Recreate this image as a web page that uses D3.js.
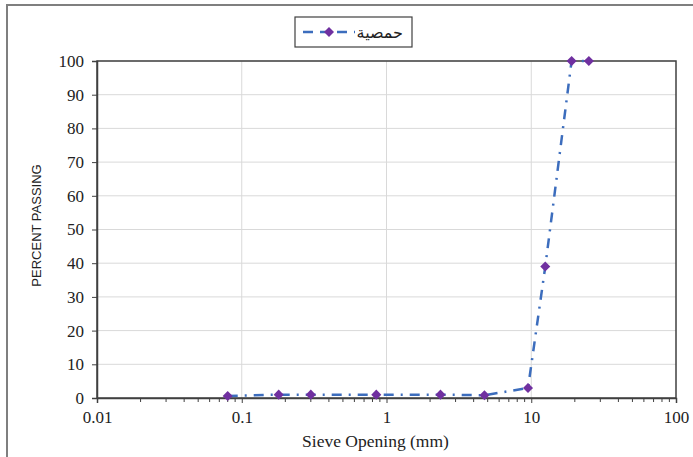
<!DOCTYPE html>
<html>
<head>
<meta charset="utf-8">
<script src="https://cdn.jsdelivr.net/npm/d3@7"></script>
<style>
  body { margin: 0; background: #fff; }
  svg { display: block; }
</style>
</head>
<body>
<div id="chart"></div>
<script>
// sieve sizes (mm) and percent passing
const sieveSizes = [0.08, 0.18, 0.3, 0.85, 2.36, 4.75, 9.5, 12.5, 19, 25];
const percentPassing = [0.6, 1, 1, 1, 1, 0.8, 3, 39, 100, 100];
const seriesName = 'حمصية';
const xTicks = [0.01, 0.1, 1, 10, 100];
const yTicks = [0, 10, 20, 30, 40, 50, 60, 70, 80, 90, 100];

const width = 693;
const height = 457;
const margin = { top: 61, right: 17, bottom: 59, left: 97 };
const innerW = width - margin.left - margin.right;
const innerH = height - margin.top - margin.bottom;

const data = sieveSizes.map((s, i) => ({ size: s, pass: percentPassing[i] }));

const svg = d3.select('#chart')
  .append('svg')
  .attr('width', width)
  .attr('height', height);

// outer frame
svg.append('rect')
  .attr('x', 7).attr('y', 5)
  .attr('width', width + 10).attr('height', height + 10)
  .attr('fill', 'none')
  .attr('stroke', '#7f7f7f')
  .attr('stroke-width', 2);

const g = svg.append('g')
  .attr('transform', `translate(${margin.left}, ${margin.top})`);

const x = d3.scaleLog()
  .domain([0.01, 100])
  .range([0, innerW]);

const y = d3.scaleLinear()
  .domain([0, 100])
  .range([innerH, 0]);

// gridlines
g.append('g')
  .selectAll('line')
  .data(yTicks.slice(1))
  .enter()
  .append('line')
  .attr('x1', 0).attr('x2', innerW)
  .attr('y1', d => y(d)).attr('y2', d => y(d))
  .attr('stroke', '#d9d9d9')
  .attr('stroke-width', 1);

g.append('g')
  .selectAll('line')
  .data(xTicks.slice(1, -1))
  .enter()
  .append('line')
  .attr('x1', d => x(d)).attr('x2', d => x(d))
  .attr('y1', 0).attr('y2', innerH)
  .attr('stroke', '#d9d9d9')
  .attr('stroke-width', 1);

// plot border
g.append('rect')
  .attr('width', innerW)
  .attr('height', innerH)
  .attr('fill', 'none')
  .attr('stroke', '#404040')
  .attr('stroke-width', 1.5);

// x axis: major and minor ticks
const minor = [];
for (let d = 0.01; d < 100; d *= 10) {
  for (let k = 2; k <= 9; k++) minor.push(d * k);
}
const xAxis = g.append('g')
  .attr('transform', `translate(0, ${innerH})`)
  .call(d3.axisBottom(x).tickValues(xTicks).tickFormat(d => String(d)).tickSize(5).tickPadding(8));
xAxis.select('.domain').attr('stroke', '#404040').attr('stroke-width', 1.5);
xAxis.selectAll('.tick line').attr('stroke', '#404040');
xAxis.selectAll('text')
  .attr('font-family', '"Liberation Serif", "Times New Roman", serif')
  .attr('font-size', 17)
  .attr('fill', '#222');

g.append('g')
  .attr('transform', `translate(0, ${innerH})`)
  .selectAll('line')
  .data(minor)
  .enter()
  .append('line')
  .attr('x1', d => x(d)).attr('x2', d => x(d))
  .attr('y1', 0).attr('y2', 4)
  .attr('stroke', '#404040');

const yAxis = g.append('g')
  .call(d3.axisLeft(y).tickValues(yTicks).tickSize(5).tickPadding(8));
yAxis.select('.domain').attr('stroke', '#404040').attr('stroke-width', 1.5);
yAxis.selectAll('.tick line').attr('stroke', '#404040');
yAxis.selectAll('text')
  .attr('font-family', '"Liberation Serif", "Times New Roman", serif')
  .attr('font-size', 17)
  .attr('fill', '#222');

// axis titles
svg.append('text')
  .attr('x', margin.left + innerW / 2 - 11)
  .attr('y', 447)
  .attr('text-anchor', 'middle')
  .attr('font-family', '"Liberation Serif", "Times New Roman", serif')
  .attr('font-size', 17.5)
  .attr('fill', '#222')
  .text('Sieve Opening (mm)');

svg.append('text')
  .attr('transform', `translate(41, ${margin.top + innerH / 2 - 4}) rotate(-90)`)
  .attr('text-anchor', 'middle')
  .attr('font-family', '"Liberation Sans", Arial, sans-serif')
  .attr('font-size', 13)
  .attr('fill', '#222')
  .text('PERCENT PASSING');

// series
const line = d3.line()
  .x(d => x(d.size))
  .y(d => y(d.pass));

g.append('path')
  .datum(data)
  .attr('d', line)
  .attr('fill', 'none')
  .attr('stroke', '#3c6dbd')
  .attr('stroke-width', 2.5)
  .attr('stroke-dasharray', '10,7,2,7');

const diamond = d3.symbol().type(d3.symbolDiamond2).size(64);
g.append('g')
  .selectAll('path')
  .data(data)
  .enter()
  .append('path')
  .attr('transform', d => `translate(${x(d.size)}, ${y(d.pass)})`)
  .attr('d', diamond)
  .attr('fill', '#7030a0');

// legend
const legend = svg.append('g').attr('transform', 'translate(295, 17)');
legend.append('rect')
  .attr('width', 117).attr('height', 30)
  .attr('fill', '#fff')
  .attr('stroke', '#404040')
  .attr('stroke-width', 1.2);
legend.append('line')
  .attr('x1', 8).attr('x2', 60)
  .attr('y1', 15).attr('y2', 15)
  .attr('stroke', '#3c6dbd')
  .attr('stroke-width', 2.5)
  .attr('stroke-dasharray', '10,7');
legend.append('path')
  .attr('transform', 'translate(34, 15)')
  .attr('d', diamond)
  .attr('fill', '#7030a0');
legend.append('text')
  .attr('x', 108).attr('y', 21)
  .attr('text-anchor', 'end')
  .attr('font-family', '"DejaVu Sans", "Noto Sans", sans-serif')
  .attr('font-size', 16)
  .attr('fill', '#222')
  .text(seriesName);
</script>
</body>
</html>
